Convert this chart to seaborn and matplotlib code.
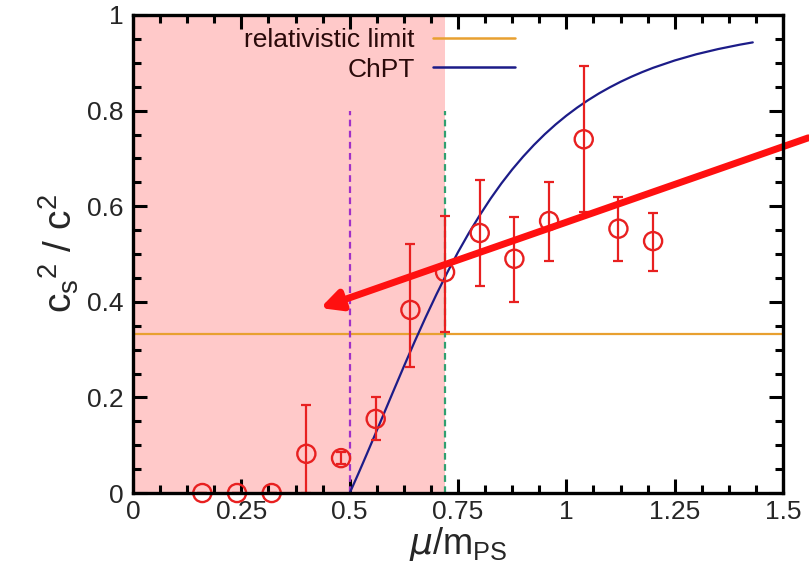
import numpy as np
import pandas as pd
import matplotlib
matplotlib.use("Agg")
import matplotlib.pyplot as plt
import seaborn as sns
from matplotlib.ticker import MultipleLocator
from matplotlib.lines import Line2D

# ---- data ----
mu = [0.16, 0.24, 0.32, 0.40, 0.48, 0.56, 0.64, 0.72, 0.80, 0.88, 0.96, 1.04, 1.12, 1.20]
cs2 = [0.0, 0.0, 0.0, 0.082, 0.073, 0.155, 0.383, 0.462, 0.544, 0.490, 0.569, 0.740, 0.553, 0.527]
err_lo = [0.0, 0.0, 0.0, 0.082, 0.012, 0.045, 0.120, 0.125, 0.111, 0.090, 0.084, 0.152, 0.068, 0.062]
err_hi = [0.0, 0.0, 0.0, 0.102, 0.012, 0.045, 0.137, 0.118, 0.111, 0.087, 0.081, 0.153, 0.067, 0.059]

chpt_mu = [0.50, 0.51, 0.52, 0.53, 0.54, 0.55, 0.56, 0.575, 0.60, 0.625, 0.65, 0.675,
           0.70, 0.725, 0.75, 0.775, 0.80, 0.825, 0.85, 0.875, 0.90, 0.925, 0.95,
           0.975, 1.00, 1.025, 1.05, 1.075, 1.10, 1.125, 1.15, 1.175, 1.20, 1.25,
           1.30, 1.35, 1.40, 1.43]
chpt_cs2 = [0.0, 0.0202, 0.0407, 0.0616, 0.0827, 0.104, 0.1254, 0.1577, 0.2116, 0.2649,
            0.317, 0.3672, 0.4153, 0.4610, 0.504, 0.544, 0.581, 0.6158, 0.6477, 0.6769,
            0.7036, 0.7281, 0.7505, 0.7709, 0.7895, 0.8064, 0.8218, 0.8359, 0.8486,
            0.8603, 0.8709, 0.8806, 0.8895, 0.9049, 0.9179, 0.9287, 0.9379, 0.9427]

rel_limit = 1.0 / 3.0
shade_end = 0.72
vline_purple = 0.5
vline_green = 0.72
vline_top = 0.8
arrow_tail = (1.558, 0.743)
arrow_head = (0.432, 0.387)

x_ticks = [0, 0.25, 0.5, 0.75, 1, 1.25, 1.5]
x_ticklabels = ["0", "0.25", "0.5", "0.75", "1", "1.25", "1.5"]
y_ticks = [0, 0.2, 0.4, 0.6, 0.8, 1.0]
y_ticklabels = ["0", "0.2", "0.4", "0.6", "0.8", "1"]

# ---- style ----
sns.set_theme(style="ticks")
plt.rcParams["font.family"] = ["Liberation Sans", "DejaVu Sans"]
plt.rcParams["mathtext.fontset"] = "custom"
plt.rcParams["mathtext.rm"] = "Liberation Sans"
plt.rcParams["mathtext.it"] = "DejaVu Sans:italic"

fig = plt.figure(figsize=(8.09, 5.68), dpi=100)
ax = fig.add_axes([0.1644, 0.132, 0.8036, 0.8416])

ax.set_xlim(0, 1.5)
ax.set_ylim(0, 1.0)

ax.axvspan(0, shade_end, color="#ffc9c9", zorder=0, lw=0)

ax.axhline(rel_limit, color="#e8a030", lw=1.6, zorder=2)
ax.plot([vline_purple, vline_purple], [0, vline_top], color="#a030c8", lw=1.6,
        ls=(0, (3, 2)), zorder=2)
ax.plot([vline_green, vline_green], [0, vline_top], color="#30a070", lw=1.6,
        ls=(0, (3, 2)), zorder=2)

df_chpt = pd.DataFrame({"mu": chpt_mu, "cs2": chpt_cs2})
sns.lineplot(data=df_chpt, x="mu", y="cs2", ax=ax, color="#1c1c88", lw=1.6, zorder=3,
             sort=True)

ax.errorbar(mu, cs2, yerr=[err_lo, err_hi], fmt="none", ecolor="#e82020",
            elinewidth=1.6, capsize=3.5, capthick=1.6, zorder=4)
df_pts = pd.DataFrame({"mu": mu, "cs2": cs2})
sns.scatterplot(data=df_pts, x="mu", y="cs2", ax=ax, marker="o", s=170,
                facecolors="none", edgecolor="#e82020", linewidth=1.7, zorder=5,
                clip_on=False)

# legend (text to the left of the line, like gnuplot)
handles = [Line2D([], [], color="#e8a030", lw=1.8), Line2D([], [], color="#1c1c88", lw=1.8)]
leg = ax.legend(handles, ["relativistic limit", "ChPT"], loc="upper right",
                bbox_to_anchor=(0.588, 0.972), frameon=False, markerfirst=False,
                fontsize=19, handlelength=3.1, handletextpad=0.7, labelspacing=0.2,
                borderpad=0, borderaxespad=0)
for t in leg.get_texts():
    t.set_ha("right")
    t.set_color("#2a0a0a")

# big red arrow
ax.annotate("", xy=arrow_head, xytext=arrow_tail, xycoords="data", textcoords="data",
            arrowprops=dict(arrowstyle="-|>,head_length=1.0,head_width=0.5",
                            color="#ff1010", lw=5, shrinkA=0, shrinkB=0),
            annotation_clip=False, zorder=6)

ax.set_xticks(x_ticks)
ax.set_xticklabels(x_ticklabels)
ax.set_yticks(y_ticks)
ax.set_yticklabels(y_ticklabels)
ax.xaxis.set_minor_locator(MultipleLocator(0.0625))
ax.yaxis.set_minor_locator(MultipleLocator(0.05))
ax.tick_params(which="both", direction="in", top=True, right=True, color="black")
ax.tick_params(which="major", length=10, width=2.2, labelsize=19, pad=7)
ax.tick_params(axis="x", which="major", pad=5)
ax.tick_params(which="minor", length=6, width=2.2)
for s in ax.spines.values():
    s.set_linewidth(2.4)
    s.set_color("black")
    s.set_zorder(7)

ax.set_xlabel(r"$\mu$/m$_{\mathrm{PS}}$", fontsize=26, labelpad=1)
ax.set_ylabel(r"c$_{\mathrm{s}}$$^{\mathrm{2}}$ / c$^{\mathrm{2}}$", fontsize=28, labelpad=4)

fig.savefig("out.png", dpi=100)
